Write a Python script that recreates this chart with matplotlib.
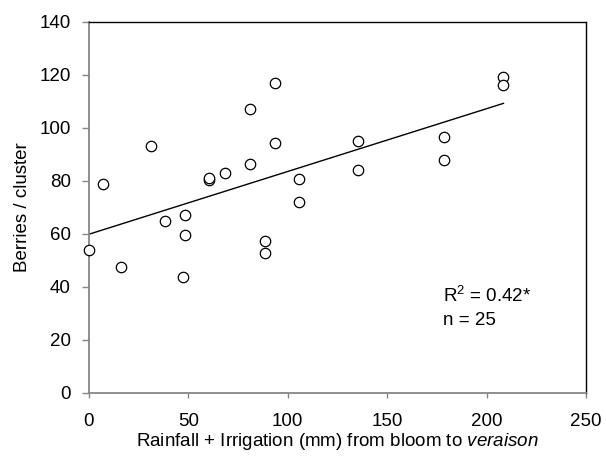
import numpy as np
import matplotlib
matplotlib.use("Agg")
import matplotlib.pyplot as plt

plt.rcParams['font.family'] = ['Liberation Sans', 'DejaVu Sans']
plt.rcParams['mathtext.fontset'] = 'custom'
plt.rcParams['mathtext.rm'] = 'Liberation Sans'
plt.rcParams['mathtext.it'] = 'Liberation Sans:italic'

# water (mm) from bloom to veraison, berries per cluster
water = [0.1, 7.0, 16.1, 31.2, 38.2, 48.2, 48.2, 47.4, 60.3, 60.3,
         68.3, 81.2, 81.2, 93.5, 93.5, 88.3, 88.3, 105.4, 105.4,
         135.5, 135.5, 178.4, 178.4, 208.5, 208.5]
berries = [53.8, 78.8, 47.5, 93.1, 65.0, 67.2, 59.4, 43.7, 80.5, 81.0,
           82.8, 107.0, 86.5, 116.8, 94.3, 57.4, 52.9, 80.7, 72.1,
           94.9, 84.1, 96.6, 87.9, 119.3, 116.2]
x_ticks = [0, 50, 100, 150, 200, 250]
y_ticks = [0, 20, 40, 60, 80, 100, 120, 140]

gray = '#868686'

fig = plt.figure(figsize=(6.06, 4.59), dpi=100)
ax = fig.add_axes([89/606, 1 - 392.7/459, 497/606, 370.7/459])

# trend line
slope, icpt = np.polyfit(water, berries, 1)
xl = np.array([0, max(water)])
ax.plot(xl, icpt + slope * xl, color='black', lw=1.0, zorder=2)

ax.plot(water, berries, 'o', ms=7.5, mfc='white', mec='black', mew=0.9,
        zorder=3, clip_on=False)

ax.set_xlim(0, 250)
ax.set_ylim(0, 140)
ax.set_xticks(x_ticks)
ax.set_yticks(y_ticks)

for s in ['left', 'bottom']:
    ax.spines[s].set_color(gray)
    ax.spines[s].set_linewidth(1.3)
for s in ['top', 'right']:
    ax.spines[s].set_color('black')
    ax.spines[s].set_linewidth(1.0)

ax.tick_params(axis='y', direction='out', length=5, width=1, color=gray,
               labelsize=13.5, pad=8)
ax.tick_params(axis='x', direction='out', length=3.5, width=1, color=gray,
               labelsize=13.5, pad=11)

ax.set_ylabel('Berries / cluster', fontsize=13.5)
ax.yaxis.set_label_coords(-0.116, 0.5)
ax.set_xlabel(r'Rainfall + Irrigation (mm) from bloom to $\it{veraison}$', fontsize=13.5)
ax.xaxis.set_label_coords(0.5, -0.104)

ax.text(178, 34.4, r'R$^2$ = 0.42*', fontsize=13.5, va='baseline')
ax.text(178, 25.6, 'n = 25', fontsize=13.5, va='baseline')

fig.savefig('out.png', dpi=100)
